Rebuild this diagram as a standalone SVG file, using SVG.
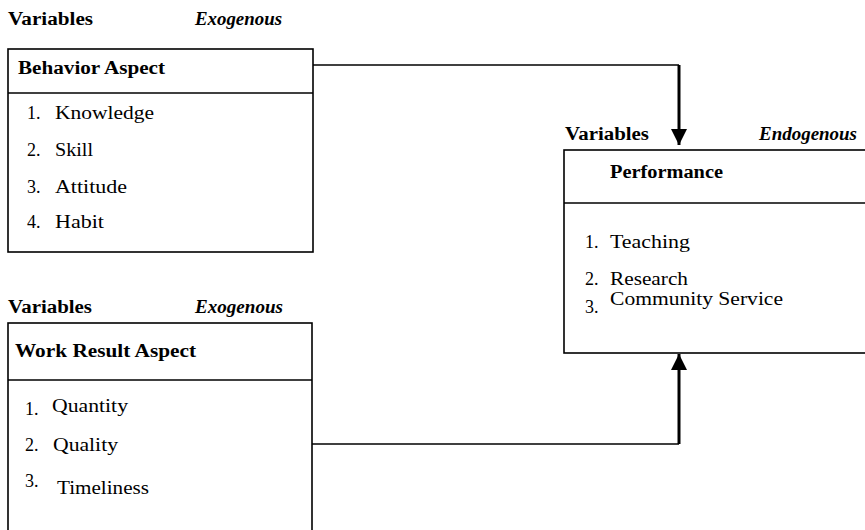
<svg xmlns="http://www.w3.org/2000/svg" width="865" height="530" viewBox="0 0 865 530">
<style>
  .t { font-size: 18px; fill: #000; }
  .b { font-weight: bold; }
  .bi { font-weight: bold; font-style: italic; }
  .box { fill: #fff; stroke: #000; stroke-width: 1.6; }
  .div { stroke: #000; stroke-width: 1.6; }
  .con { fill: none; stroke: #000; stroke-width: 1.6; }
  .con2 { fill: none; stroke: #000; stroke-width: 3; }
</style>
<defs>
  <marker id="arr" markerUnits="userSpaceOnUse" markerWidth="16" markerHeight="18" refX="16" refY="8" orient="auto">
    <path d="M0,0 L16,8 L0,16 Z" fill="#000"/>
  </marker>
</defs>

<g id="connectors">
  <path class="con" d="M313,65 H679"/>
  <path class="con2" d="M679,65 V145" marker-end="url(#arr)"/>
  <path class="con" d="M312,444 H679"/>
  <path class="con2" d="M679,444 V354" marker-end="url(#arr)"/>
</g>

<g font-family="'Liberation Serif', 'DejaVu Serif', serif">
<g id="behavior">
  <text class="t b" x="8" y="25" textLength="85" lengthAdjust="spacingAndGlyphs">Variables</text>
  <text class="t bi" x="195" y="25" textLength="87" lengthAdjust="spacingAndGlyphs">Exogenous</text>
  <rect class="box" x="8" y="49" width="305" height="203"/>
  <line class="div" x1="8" y1="93" x2="313" y2="93"/>
  <text class="t b" x="18" y="74" textLength="147" lengthAdjust="spacingAndGlyphs">Behavior Aspect</text>
  <text class="t" x="27" y="119">1.</text>
  <text class="t" x="55" y="119" textLength="99" lengthAdjust="spacingAndGlyphs">Knowledge</text>
  <text class="t" x="27" y="156">2.</text>
  <text class="t" x="55" y="156" textLength="38" lengthAdjust="spacingAndGlyphs">Skill</text>
  <text class="t" x="27" y="193">3.</text>
  <text class="t" x="55" y="193" textLength="72" lengthAdjust="spacingAndGlyphs">Attitude</text>
  <text class="t" x="27" y="228">4.</text>
  <text class="t" x="55" y="228" textLength="49" lengthAdjust="spacingAndGlyphs">Habit</text>
</g>

<g id="workresult">
  <text class="t b" x="8" y="313" textLength="84" lengthAdjust="spacingAndGlyphs">Variables</text>
  <text class="t bi" x="195" y="313" textLength="88" lengthAdjust="spacingAndGlyphs">Exogenous</text>
  <rect class="box" x="8" y="323" width="304" height="220"/>
  <line class="div" x1="8" y1="380" x2="312" y2="380"/>
  <text class="t b" x="15" y="357" textLength="181" lengthAdjust="spacingAndGlyphs">Work Result Aspect</text>
  <text class="t" x="25" y="415">1.</text>
  <text class="t" x="52" y="412" textLength="76" lengthAdjust="spacingAndGlyphs">Quantity</text>
  <text class="t" x="25" y="451">2.</text>
  <text class="t" x="53" y="451" textLength="65" lengthAdjust="spacingAndGlyphs">Quality</text>
  <text class="t" x="25" y="487">3.</text>
  <text class="t" x="57" y="494" textLength="92" lengthAdjust="spacingAndGlyphs">Timeliness</text>
</g>

<g id="performance">
  <text class="t b" x="565" y="140" textLength="84" lengthAdjust="spacingAndGlyphs">Variables</text>
  <text class="t bi" x="759" y="140" textLength="98" lengthAdjust="spacingAndGlyphs">Endogenous</text>
  <rect class="box" x="564" y="150" width="310" height="203"/>
  <line class="div" x1="564" y1="203" x2="874" y2="203"/>
  <text class="t b" x="610" y="178" textLength="113" lengthAdjust="spacingAndGlyphs">Performance</text>
  <text class="t" x="585" y="248">1.</text>
  <text class="t" x="610" y="248" textLength="80" lengthAdjust="spacingAndGlyphs">Teaching</text>
  <text class="t" x="585" y="285">2.</text>
  <text class="t" x="610" y="285" textLength="78" lengthAdjust="spacingAndGlyphs">Research</text>
  <text class="t" x="585" y="313">3.</text>
  <text class="t" x="610" y="305" textLength="173" lengthAdjust="spacingAndGlyphs">Community Service</text>
</g>
</g>
</svg>
